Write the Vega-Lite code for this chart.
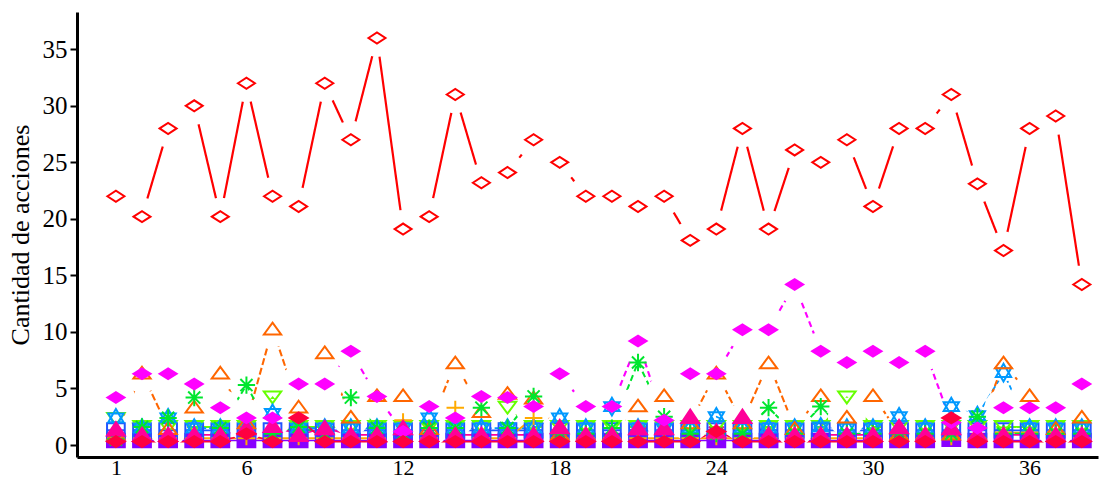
{
"$schema": "https://vega.github.io/schema/vega-lite/v6.json",
"width": 1021, "height": 445,
"autosize": {"type": "none"},
"padding": {"left": 77, "top": 12, "right": 2, "bottom": 22},
"background": "white",
"config": {"view": {"stroke": null}, "font": "Liberation Serif",
 "axis": {"grid": false, "domainColor": "black", "domainWidth": 3, "labelFont": "Liberation Serif", "labelFontSize": 25, "labelColor": "black", "titleFont": "Liberation Serif", "titleFontSize": 26, "titleFontWeight": "normal", "titleColor": "black", "tickColor": "black"}},
"data": {"values": [
{"s":"s09","x":1,"y":0.4},{"s":"s09","x":2,"y":0.4},{"s":"s09","x":3,"y":0.4},{"s":"s09","x":4,"y":0.4},{"s":"s09","x":5,"y":0.4},{"s":"s09","x":6,"y":0.4},{"s":"s09","x":7,"y":0.4},{"s":"s09","x":8,"y":0.4},{"s":"s09","x":9,"y":0.4},{"s":"s09","x":10,"y":0.4},{"s":"s09","x":11,"y":0.4},{"s":"s09","x":12,"y":0.4},{"s":"s09","x":13,"y":0.4},{"s":"s09","x":14,"y":0.4},{"s":"s09","x":15,"y":0.4},{"s":"s09","x":16,"y":0.4},{"s":"s09","x":17,"y":0.4},{"s":"s09","x":18,"y":0.4},{"s":"s09","x":19,"y":0.4},{"s":"s09","x":20,"y":0.4},{"s":"s09","x":21,"y":0.4},{"s":"s09","x":22,"y":0.4},{"s":"s09","x":23,"y":0.4},{"s":"s09","x":24,"y":0.4},{"s":"s09","x":25,"y":0.4},{"s":"s09","x":26,"y":0.4},{"s":"s09","x":27,"y":0.4},{"s":"s09","x":28,"y":0.4},{"s":"s09","x":29,"y":0.4},{"s":"s09","x":30,"y":0.4},{"s":"s09","x":31,"y":0.4},{"s":"s09","x":32,"y":0.4},{"s":"s09","x":33,"y":0.5},{"s":"s09","x":34,"y":0.4},{"s":"s09","x":35,"y":0.4},{"s":"s09","x":36,"y":0.4},{"s":"s09","x":37,"y":0.4},{"s":"s09","x":38,"y":0.4},
{"s":"s08","x":1,"y":1.3},{"s":"s08","x":2,"y":1.3},{"s":"s08","x":3,"y":1.3},{"s":"s08","x":4,"y":1.3},{"s":"s08","x":5,"y":1.3},{"s":"s08","x":6,"y":1.3},{"s":"s08","x":7,"y":1.3},{"s":"s08","x":8,"y":1.3},{"s":"s08","x":9,"y":1.3},{"s":"s08","x":10,"y":1.3},{"s":"s08","x":11,"y":1.3},{"s":"s08","x":12,"y":1.3},{"s":"s08","x":13,"y":1.3},{"s":"s08","x":14,"y":1.3},{"s":"s08","x":15,"y":1.3},{"s":"s08","x":16,"y":1.3},{"s":"s08","x":17,"y":1.3},{"s":"s08","x":18,"y":1.3},{"s":"s08","x":19,"y":1.3},{"s":"s08","x":20,"y":1.3},{"s":"s08","x":21,"y":1.3},{"s":"s08","x":22,"y":1.3},{"s":"s08","x":23,"y":1.3},{"s":"s08","x":24,"y":1.3},{"s":"s08","x":25,"y":1.3},{"s":"s08","x":26,"y":1.3},{"s":"s08","x":27,"y":1.3},{"s":"s08","x":28,"y":1.3},{"s":"s08","x":29,"y":1.3},{"s":"s08","x":30,"y":1.3},{"s":"s08","x":31,"y":1.3},{"s":"s08","x":32,"y":1.3},{"s":"s08","x":33,"y":1.3},{"s":"s08","x":34,"y":1.3},{"s":"s08","x":35,"y":1.3},{"s":"s08","x":36,"y":1.3},{"s":"s08","x":37,"y":1.3},{"s":"s08","x":38,"y":1.3},
{"s":"s05","x":1,"y":2.3},{"s":"s05","x":2,"y":1.6},{"s":"s05","x":3,"y":1.6},{"s":"s05","x":4,"y":1.6},{"s":"s05","x":5,"y":1.6},{"s":"s05","x":6,"y":1.6},{"s":"s05","x":7,"y":4.2},{"s":"s05","x":8,"y":1.6},{"s":"s05","x":9,"y":1.6},{"s":"s05","x":10,"y":1.6},{"s":"s05","x":11,"y":1.6},{"s":"s05","x":12,"y":1.6},{"s":"s05","x":13,"y":1.6},{"s":"s05","x":14,"y":1.6},{"s":"s05","x":15,"y":1.6},{"s":"s05","x":16,"y":3.3},{"s":"s05","x":17,"y":1.6},{"s":"s05","x":18,"y":1.6},{"s":"s05","x":19,"y":1.6},{"s":"s05","x":20,"y":1.6},{"s":"s05","x":21,"y":1.6},{"s":"s05","x":22,"y":1.6},{"s":"s05","x":23,"y":1.6},{"s":"s05","x":24,"y":1.6},{"s":"s05","x":25,"y":1.6},{"s":"s05","x":26,"y":1.6},{"s":"s05","x":27,"y":1.6},{"s":"s05","x":28,"y":1.6},{"s":"s05","x":29,"y":4.2},{"s":"s05","x":30,"y":1.6},{"s":"s05","x":31,"y":1.6},{"s":"s05","x":32,"y":1.6},{"s":"s05","x":33,"y":1.6},{"s":"s05","x":34,"y":1.6},{"s":"s05","x":35,"y":1.6},{"s":"s05","x":36,"y":1.6},{"s":"s05","x":37,"y":1.6},{"s":"s05","x":38,"y":1.6},
{"s":"s07","x":1,"y":2.4},{"s":"s07","x":2,"y":1.5},{"s":"s07","x":3,"y":2.4},{"s":"s07","x":4,"y":1.5},{"s":"s07","x":5,"y":1.5},{"s":"s07","x":6,"y":1.5},{"s":"s07","x":7,"y":2.8},{"s":"s07","x":8,"y":1.5},{"s":"s07","x":9,"y":1.5},{"s":"s07","x":10,"y":1.5},{"s":"s07","x":11,"y":1.5},{"s":"s07","x":12,"y":1.5},{"s":"s07","x":13,"y":2.4},{"s":"s07","x":14,"y":1.5},{"s":"s07","x":15,"y":1.5},{"s":"s07","x":16,"y":1.5},{"s":"s07","x":17,"y":1.5},{"s":"s07","x":18,"y":2.4},{"s":"s07","x":19,"y":1.5},{"s":"s07","x":20,"y":3.4},{"s":"s07","x":21,"y":1.5},{"s":"s07","x":22,"y":1.5},{"s":"s07","x":23,"y":1.5},{"s":"s07","x":24,"y":2.5},{"s":"s07","x":25,"y":1.5},{"s":"s07","x":26,"y":1.5},{"s":"s07","x":27,"y":1.5},{"s":"s07","x":28,"y":1.6},{"s":"s07","x":29,"y":1.5},{"s":"s07","x":30,"y":1.5},{"s":"s07","x":31,"y":2.5},{"s":"s07","x":32,"y":1.5},{"s":"s07","x":33,"y":3.4},{"s":"s07","x":34,"y":2.6},{"s":"s07","x":35,"y":6.4},{"s":"s07","x":36,"y":1.5},{"s":"s07","x":37,"y":1.5},{"s":"s07","x":38,"y":1.5},
{"s":"s06","x":1,"y":0.6},{"s":"s06","x":2,"y":0.6},{"s":"s06","x":3,"y":0.6},{"s":"s06","x":4,"y":0.6},{"s":"s06","x":5,"y":0.6},{"s":"s06","x":6,"y":0.6},{"s":"s06","x":7,"y":0.6},{"s":"s06","x":8,"y":0.6},{"s":"s06","x":9,"y":0.6},{"s":"s06","x":10,"y":0.6},{"s":"s06","x":11,"y":0.6},{"s":"s06","x":12,"y":2.2},{"s":"s06","x":13,"y":0.6},{"s":"s06","x":14,"y":3.3},{"s":"s06","x":15,"y":0.6},{"s":"s06","x":16,"y":0.6},{"s":"s06","x":17,"y":2.4},{"s":"s06","x":18,"y":0.6},{"s":"s06","x":19,"y":0.6},{"s":"s06","x":20,"y":0.6},{"s":"s06","x":21,"y":0.6},{"s":"s06","x":22,"y":0.6},{"s":"s06","x":23,"y":0.6},{"s":"s06","x":24,"y":0.6},{"s":"s06","x":25,"y":0.6},{"s":"s06","x":26,"y":0.6},{"s":"s06","x":27,"y":0.6},{"s":"s06","x":28,"y":0.6},{"s":"s06","x":29,"y":0.6},{"s":"s06","x":30,"y":0.6},{"s":"s06","x":31,"y":0.6},{"s":"s06","x":32,"y":0.6},{"s":"s06","x":33,"y":0.6},{"s":"s06","x":34,"y":0.6},{"s":"s06","x":35,"y":1.1},{"s":"s06","x":36,"y":1.1},{"s":"s06","x":37,"y":1.1},{"s":"s06","x":38,"y":0.6},
{"s":"s03","x":1,"y":1.0},{"s":"s03","x":2,"y":6.4},{"s":"s03","x":3,"y":1.5},{"s":"s03","x":4,"y":3.4},{"s":"s03","x":5,"y":6.4},{"s":"s03","x":6,"y":2.0},{"s":"s03","x":7,"y":10.3},{"s":"s03","x":8,"y":3.4},{"s":"s03","x":9,"y":8.2},{"s":"s03","x":10,"y":2.5},{"s":"s03","x":11,"y":4.4},{"s":"s03","x":12,"y":4.4},{"s":"s03","x":13,"y":1.5},{"s":"s03","x":14,"y":7.3},{"s":"s03","x":15,"y":3.0},{"s":"s03","x":16,"y":4.6},{"s":"s03","x":17,"y":4.2},{"s":"s03","x":18,"y":1.0},{"s":"s03","x":19,"y":1.0},{"s":"s03","x":20,"y":1.0},{"s":"s03","x":21,"y":3.5},{"s":"s03","x":22,"y":4.4},{"s":"s03","x":23,"y":2.0},{"s":"s03","x":24,"y":6.4},{"s":"s03","x":25,"y":2.0},{"s":"s03","x":26,"y":7.3},{"s":"s03","x":27,"y":1.5},{"s":"s03","x":28,"y":4.4},{"s":"s03","x":29,"y":2.5},{"s":"s03","x":30,"y":4.4},{"s":"s03","x":31,"y":1.0},{"s":"s03","x":32,"y":1.0},{"s":"s03","x":33,"y":1.0},{"s":"s03","x":34,"y":1.0},{"s":"s03","x":35,"y":7.3},{"s":"s03","x":36,"y":4.4},{"s":"s03","x":37,"y":1.5},{"s":"s03","x":38,"y":2.5},
{"s":"s04","x":1,"y":0.5},{"s":"s04","x":2,"y":1.6},{"s":"s04","x":3,"y":2.4},{"s":"s04","x":4,"y":4.2},{"s":"s04","x":5,"y":1.5},{"s":"s04","x":6,"y":5.3},{"s":"s04","x":7,"y":1.0},{"s":"s04","x":8,"y":1.6},{"s":"s04","x":9,"y":1.0},{"s":"s04","x":10,"y":4.2},{"s":"s04","x":11,"y":1.5},{"s":"s04","x":12,"y":1.0},{"s":"s04","x":13,"y":1.5},{"s":"s04","x":14,"y":1.5},{"s":"s04","x":15,"y":3.3},{"s":"s04","x":16,"y":1.5},{"s":"s04","x":17,"y":4.3},{"s":"s04","x":18,"y":1.0},{"s":"s04","x":19,"y":1.0},{"s":"s04","x":20,"y":1.5},{"s":"s04","x":21,"y":7.3},{"s":"s04","x":22,"y":2.5},{"s":"s04","x":23,"y":1.0},{"s":"s04","x":24,"y":1.0},{"s":"s04","x":25,"y":1.0},{"s":"s04","x":26,"y":3.3},{"s":"s04","x":27,"y":1.0},{"s":"s04","x":28,"y":3.4},{"s":"s04","x":29,"y":1.0},{"s":"s04","x":30,"y":1.0},{"s":"s04","x":31,"y":1.0},{"s":"s04","x":32,"y":1.0},{"s":"s04","x":33,"y":1.0},{"s":"s04","x":34,"y":2.5},{"s":"s04","x":35,"y":1.0},{"s":"s04","x":36,"y":1.0},{"s":"s04","x":37,"y":1.0},{"s":"s04","x":38,"y":1.0},
{"s":"s10","x":1,"y":1.4},{"s":"s10","x":2,"y":0.9},{"s":"s10","x":3,"y":0.9},{"s":"s10","x":4,"y":0.9},{"s":"s10","x":5,"y":0.9},{"s":"s10","x":6,"y":1.5},{"s":"s10","x":7,"y":1.7},{"s":"s10","x":8,"y":0.9},{"s":"s10","x":9,"y":1.5},{"s":"s10","x":10,"y":0.9},{"s":"s10","x":11,"y":0.9},{"s":"s10","x":12,"y":1.5},{"s":"s10","x":13,"y":0.9},{"s":"s10","x":14,"y":0.9},{"s":"s10","x":15,"y":0.9},{"s":"s10","x":16,"y":0.9},{"s":"s10","x":17,"y":0.9},{"s":"s10","x":18,"y":1.6},{"s":"s10","x":19,"y":0.9},{"s":"s10","x":20,"y":0.9},{"s":"s10","x":21,"y":1.5},{"s":"s10","x":22,"y":1.5},{"s":"s10","x":23,"y":2.5},{"s":"s10","x":24,"y":1.2},{"s":"s10","x":25,"y":2.5},{"s":"s10","x":26,"y":0.9},{"s":"s10","x":27,"y":0.9},{"s":"s10","x":28,"y":0.9},{"s":"s10","x":29,"y":0.9},{"s":"s10","x":30,"y":0.9},{"s":"s10","x":31,"y":1.6},{"s":"s10","x":32,"y":0.9},{"s":"s10","x":33,"y":1.5},{"s":"s10","x":34,"y":0.9},{"s":"s10","x":35,"y":0.9},{"s":"s10","x":36,"y":0.9},{"s":"s10","x":37,"y":0.9},{"s":"s10","x":38,"y":0.9},
{"s":"s02","x":1,"y":4.2},{"s":"s02","x":2,"y":6.3},{"s":"s02","x":3,"y":6.3},{"s":"s02","x":4,"y":5.4},{"s":"s02","x":5,"y":3.3},{"s":"s02","x":6,"y":2.4},{"s":"s02","x":7,"y":2.4},{"s":"s02","x":8,"y":5.4},{"s":"s02","x":9,"y":5.4},{"s":"s02","x":10,"y":8.3},{"s":"s02","x":11,"y":4.3},{"s":"s02","x":12,"y":1.2},{"s":"s02","x":13,"y":3.4},{"s":"s02","x":14,"y":2.4},{"s":"s02","x":15,"y":4.3},{"s":"s02","x":16,"y":4.2},{"s":"s02","x":17,"y":3.4},{"s":"s02","x":18,"y":6.3},{"s":"s02","x":19,"y":3.4},{"s":"s02","x":20,"y":3.4},{"s":"s02","x":21,"y":9.2},{"s":"s02","x":22,"y":2.2},{"s":"s02","x":23,"y":6.3},{"s":"s02","x":24,"y":6.3},{"s":"s02","x":25,"y":10.2},{"s":"s02","x":26,"y":10.2},{"s":"s02","x":27,"y":14.2},{"s":"s02","x":28,"y":8.3},{"s":"s02","x":29,"y":7.3},{"s":"s02","x":30,"y":8.3},{"s":"s02","x":31,"y":7.3},{"s":"s02","x":32,"y":8.3},{"s":"s02","x":33,"y":2.0},{"s":"s02","x":34,"y":1.5},{"s":"s02","x":35,"y":3.3},{"s":"s02","x":36,"y":3.3},{"s":"s02","x":37,"y":3.3},{"s":"s02","x":38,"y":5.4},
{"s":"s11","x":1,"y":0.3},{"s":"s11","x":2,"y":0.3},{"s":"s11","x":3,"y":0.3},{"s":"s11","x":4,"y":0.3},{"s":"s11","x":5,"y":0.3},{"s":"s11","x":6,"y":1.0},{"s":"s11","x":7,"y":0.3},{"s":"s11","x":8,"y":2.4},{"s":"s11","x":9,"y":0.3},{"s":"s11","x":10,"y":0.3},{"s":"s11","x":11,"y":0.3},{"s":"s11","x":12,"y":0.3},{"s":"s11","x":13,"y":0.3},{"s":"s11","x":14,"y":0.3},{"s":"s11","x":15,"y":0.3},{"s":"s11","x":16,"y":0.3},{"s":"s11","x":17,"y":0.3},{"s":"s11","x":18,"y":0.3},{"s":"s11","x":19,"y":0.3},{"s":"s11","x":20,"y":0.3},{"s":"s11","x":21,"y":0.3},{"s":"s11","x":22,"y":0.3},{"s":"s11","x":23,"y":0.3},{"s":"s11","x":24,"y":1.2},{"s":"s11","x":25,"y":0.3},{"s":"s11","x":26,"y":0.3},{"s":"s11","x":27,"y":0.3},{"s":"s11","x":28,"y":0.3},{"s":"s11","x":29,"y":0.3},{"s":"s11","x":30,"y":0.3},{"s":"s11","x":31,"y":0.3},{"s":"s11","x":32,"y":0.3},{"s":"s11","x":33,"y":2.4},{"s":"s11","x":34,"y":0.3},{"s":"s11","x":35,"y":0.3},{"s":"s11","x":36,"y":0.3},{"s":"s11","x":37,"y":0.3},{"s":"s11","x":38,"y":0.3},
{"s":"s01","x":1,"y":22.0},{"s":"s01","x":2,"y":20.2},{"s":"s01","x":3,"y":28.0},{"s":"s01","x":4,"y":30.0},{"s":"s01","x":5,"y":20.2},{"s":"s01","x":6,"y":32.0},{"s":"s01","x":7,"y":22.0},{"s":"s01","x":8,"y":21.1},{"s":"s01","x":9,"y":32.0},{"s":"s01","x":10,"y":27.0},{"s":"s01","x":11,"y":36.0},{"s":"s01","x":12,"y":19.1},{"s":"s01","x":13,"y":20.2},{"s":"s01","x":14,"y":31.0},{"s":"s01","x":15,"y":23.2},{"s":"s01","x":16,"y":24.1},{"s":"s01","x":17,"y":27.0},{"s":"s01","x":18,"y":25.0},{"s":"s01","x":19,"y":22.0},{"s":"s01","x":20,"y":22.0},{"s":"s01","x":21,"y":21.1},{"s":"s01","x":22,"y":22.0},{"s":"s01","x":23,"y":18.1},{"s":"s01","x":24,"y":19.1},{"s":"s01","x":25,"y":28.0},{"s":"s01","x":26,"y":19.1},{"s":"s01","x":27,"y":26.1},{"s":"s01","x":28,"y":25.0},{"s":"s01","x":29,"y":27.0},{"s":"s01","x":30,"y":21.1},{"s":"s01","x":31,"y":28.0},{"s":"s01","x":32,"y":28.0},{"s":"s01","x":33,"y":31.0},{"s":"s01","x":34,"y":23.1},{"s":"s01","x":35,"y":17.2},{"s":"s01","x":36,"y":28.0},{"s":"s01","x":37,"y":29.1},{"s":"s01","x":38,"y":14.2}
]},
"encoding": {
 "x": {"field": "x", "type": "quantitative", "scale": {"domain": [-0.49, 38.62], "nice": false, "zero": false},
  "axis": {"values": [1, 6, 12, 18, 24, 30, 36], "ticks": false, "tickSize": 0, "labelPadding": 0, "labelFontSize": 22, "title": null}},
 "y": {"field": "y", "type": "quantitative", "scale": {"domain": [-1.06, 38.3], "nice": false, "zero": false},
  "axis": {"values": [0, 5, 10, 15, 20, 25, 30, 35], "tickSize": 7, "tickWidth": 2, "labelPadding": 3, "title": "Cantidad de acciones", "titleX": -57, "titleY": 222.5, "titleAngle": 270, "titleAlign": "center", "titleBaseline": "middle"}}
},
"layer": [
 {"mark": {"type": "line", "interpolate": "linear"},
  "encoding": {
   "stroke": {"field": "s", "type": "nominal", "legend": null, "scale": {"domain": ["s01","s02","s03","s04","s05","s06","s07","s08","s09","s10","s11"], "range": ["#ff0000","#ff00ff","#ff6600","#00e62e","#66ff00","#ffaa00","#0099ff","#2255ff","#8800ff","#ff0099","#ff0040"]}},
   "strokeWidth": {"field": "s", "type": "nominal", "legend": null, "scale": {"domain": ["s01","s02","s03","s04","s05","s06","s07","s08","s09","s10","s11"], "range": [2.2,1.6,1.8,1.6,1.5,1.8,1.6,1.5,1.5,1.5,1.5]}},
   "strokeDash": {"field": "s", "type": "nominal", "legend": null, "scale": {"domain": ["s01","s02","s03","s04","s05","s06","s07","s08","s09","s10","s11"], "range": [[1,0],[6,4],[7,3],[6,4],[1,0],[1,0],[6,3],[1,0],[1,0],[1,0],[1,0]]}}
  }},
 {"transform": [{"filter": {"field": "s", "oneOf": ["s01","s02","s03"]}}],
  "mark": {"type": "point", "shape": "circle", "filled": true, "fill": "white", "size": 1444, "opacity": 1, "strokeWidth": 0}},
 {"mark": {"type": "point", "filled": true, "opacity": 1, "strokeWidth": 2},
  "encoding": {
   "shape": {"field": "s", "type": "nominal", "legend": null, "scale": {"domain": ["s01","s02","s03","s04","s05","s06","s07","s08","s09","s10","s11"], "range": [
     "M-1,0L0,-0.65L1,0L0,0.65Z",
     "M-1,0L0,-0.62L1,0L0,0.62Z",
     "M0,-0.68L1,0.68L-1,0.68Z",
     "M-1,0L1,0M0,-1L0,1M-0.7,-0.7L0.7,0.7M-0.7,0.7L0.7,-0.7",
     "M0,0.68L1,-0.68L-1,-0.68Z",
     "M-1,0L1,0M0,-0.8L0,0.8",
     "M0,-1L0.866,0.5L-0.866,0.5ZM0,1L0.866,-0.5L-0.866,-0.5Z",
     "M-1,-0.8L1,-0.8L1,0.8L-1,0.8ZM-1,0L1,0M0,-0.8L0,0.8",
     "M-1,-0.75L1,-0.75L1,0.75L-1,0.75Z",
     "M0,-0.8L1,0.7L-1,0.7Z",
     "M-1,0L0,-0.6L1,0L0,0.6Z"]}},
   "size": {"field": "s", "type": "nominal", "legend": null, "scale": {"domain": ["s01","s02","s03","s04","s05","s06","s07","s08","s09","s10","s11"], "range": [289,324,625,576,625,576,529,400,400,324,400]}},
   "fill": {"field": "s", "type": "nominal", "legend": null, "scale": {"domain": ["s01","s02","s03","s04","s05","s06","s07","s08","s09","s10","s11"], "range": ["transparent","#ff00ff","transparent","transparent","transparent","transparent","transparent","transparent","#8800ff","#ff0099","#ff0040"]}},
   "stroke": {"field": "s", "type": "nominal", "legend": null, "scale": {"domain": ["s01","s02","s03","s04","s05","s06","s07","s08","s09","s10","s11"], "range": ["#ff0000","#ff00ff","#ff6600","#00e62e","#66ff00","#ffaa00","#0099ff","#2255ff","#8800ff","#ff0099","#ff0040"]}}
  }}
]
}
